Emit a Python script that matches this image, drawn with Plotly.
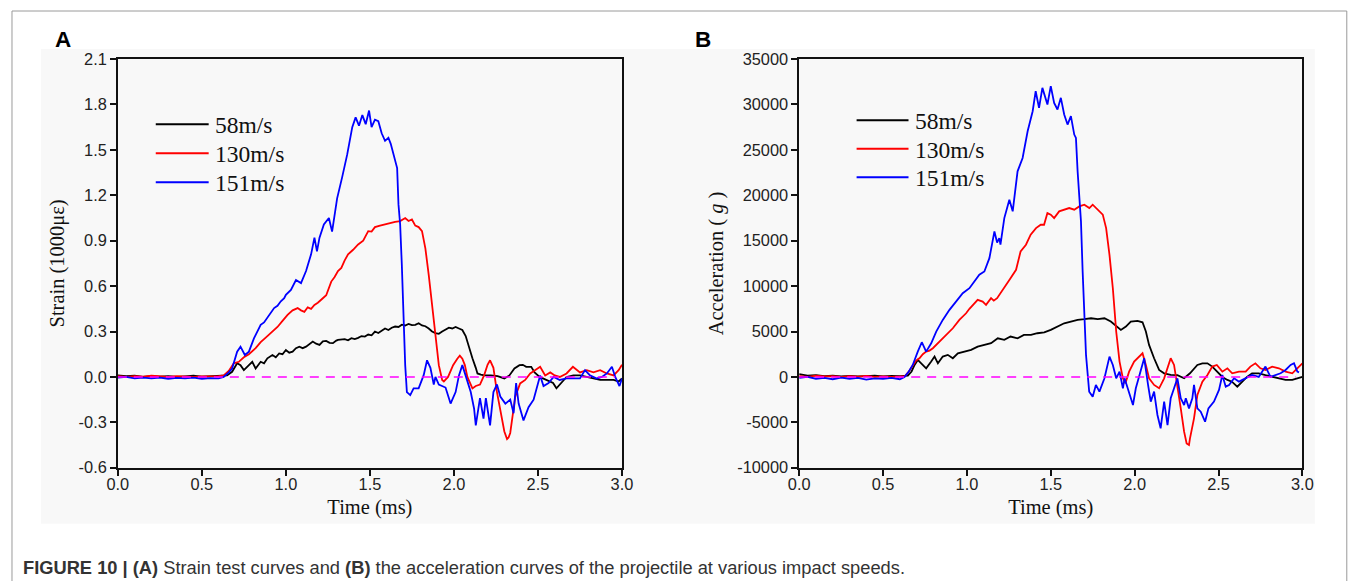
import plotly.graph_objects as go

# The photographed picture maps page pixels to picture pixels as
#   picture_x = 10 + 0.9855 * page_x,  picture_y = 8 + 0.968 * page_y
# so every position below is given in picture pixels and converted.
SX, OX = 0.9855, 10.0
SY, OY = 0.968, 8.0
FW, FH = 1364, 592
FS = 1 / 0.977  # font compensation


def fx(px):
    return ((px - OX) / SX) / FW


def fy(py):
    return 1 - ((py - OY) / SY) / FH


# ---------------- Panel A : strain (1000 micro-strain) ----------------
t_a_58 = [0.00, 0.05, 0.10, 0.15, 0.20, 0.25, 0.30, 0.35, 0.40, 0.45, 0.50, 0.55, 0.60, 0.63, 0.65, 0.68,
          0.71, 0.73, 0.75, 0.78, 0.80, 0.82, 0.85, 0.87, 0.89, 0.92, 0.94, 0.96, 0.98, 1.00, 1.02, 1.04,
          1.06, 1.08, 1.10, 1.12, 1.14, 1.16, 1.18, 1.20, 1.22, 1.24, 1.26, 1.28, 1.30, 1.31, 1.35, 1.37,
          1.39, 1.41, 1.43, 1.45, 1.47, 1.49, 1.51, 1.53, 1.55, 1.57, 1.59, 1.61, 1.63, 1.65, 1.67, 1.69,
          1.71, 1.73, 1.75, 1.77, 1.79, 1.81, 1.83, 1.85, 1.87, 1.89, 1.91, 1.93, 1.95, 1.97, 1.99, 2.01,
          2.03, 2.05, 2.07, 2.09, 2.11, 2.13, 2.14, 2.16, 2.18, 2.22, 2.26, 2.30, 2.33, 2.36, 2.39, 2.41,
          2.43, 2.46, 2.48, 2.51, 2.55, 2.59, 2.61, 2.64, 2.67, 2.71, 2.75, 2.79, 2.83, 2.87, 2.91, 2.95,
          2.98, 3.00]
s_a_58 = [0.010, 0.005, 0.008, 0.000, 0.005, 0.002, 0.006, 0.000, 0.004, 0.008, 0.002, 0.005, 0.003, 0.005, 0.010, 0.034,
          0.090, 0.078, 0.045, 0.078, 0.100, 0.056, 0.100, 0.090, 0.123, 0.145, 0.130, 0.155, 0.150, 0.178, 0.160, 0.167,
          0.190, 0.200, 0.190, 0.200, 0.215, 0.234, 0.220, 0.212, 0.235, 0.238, 0.225, 0.223, 0.240, 0.245, 0.250, 0.242,
          0.256, 0.250, 0.258, 0.270, 0.267, 0.280, 0.275, 0.300, 0.290, 0.305, 0.320, 0.310, 0.325, 0.333, 0.330, 0.345,
          0.340, 0.350, 0.342, 0.344, 0.355, 0.340, 0.335, 0.320, 0.300, 0.290, 0.285, 0.300, 0.310, 0.325, 0.320, 0.330,
          0.320, 0.310, 0.270, 0.190, 0.123, 0.060, 0.023, 0.015, 0.010, 0.010, 0.005, -0.010, 0.010, 0.056, 0.078, 0.080,
          0.067, 0.067, 0.030, 0.000, -0.020, -0.040, -0.075, -0.040, 0.000, 0.010, 0.010, 0.000, -0.010, -0.020, -0.020, -0.020,
          -0.030, -0.010]

t_a_130 = [0.00, 0.05, 0.10, 0.15, 0.20, 0.25, 0.30, 0.35, 0.40, 0.45, 0.50, 0.55, 0.60, 0.63, 0.66, 0.69,
           0.72, 0.75, 0.78, 0.82, 0.85, 0.88, 0.92, 0.95, 0.98, 1.01, 1.04, 1.07, 1.09, 1.11, 1.13, 1.15,
           1.17, 1.19, 1.21, 1.24, 1.27, 1.29, 1.31, 1.33, 1.35, 1.37, 1.40, 1.43, 1.46, 1.49, 1.51, 1.53,
           1.56, 1.59, 1.62, 1.65, 1.68, 1.71, 1.73, 1.75, 1.77, 1.79, 1.81, 1.83, 1.85, 1.87, 1.89, 1.91,
           1.93, 1.94, 1.965, 1.995, 2.02, 2.035, 2.05, 2.065, 2.08, 2.11, 2.13, 2.155, 2.18, 2.20, 2.215, 2.235,
           2.256, 2.27, 2.286, 2.30, 2.316, 2.325, 2.335, 2.345, 2.365, 2.394, 2.424, 2.454, 2.483, 2.513, 2.543, 2.573,
           2.60, 2.63, 2.67, 2.708, 2.75, 2.79, 2.83, 2.87, 2.91, 2.95, 2.98, 3.00]
s_a_130 = [0.005, 0.000, 0.006, 0.002, 0.008, 0.003, 0.000, 0.006, 0.003, 0.000, 0.004, 0.002, 0.005, 0.010, 0.040, 0.090,
           0.100, 0.130, 0.150, 0.190, 0.230, 0.260, 0.300, 0.330, 0.370, 0.410, 0.440, 0.455, 0.440, 0.430, 0.460, 0.450,
           0.476, 0.490, 0.510, 0.540, 0.630, 0.660, 0.700, 0.720, 0.770, 0.810, 0.840, 0.875, 0.900, 0.963, 0.960, 0.990,
           1.000, 1.010, 1.020, 1.025, 1.030, 1.050, 1.030, 1.040, 1.000, 0.990, 0.963, 0.850, 0.675, 0.476, 0.255, 0.078,
           -0.020, -0.030, 0.000, 0.078, 0.120, 0.140, 0.120, 0.078, 0.000, -0.076, -0.060, -0.050, 0.012, 0.080, 0.110, 0.060,
           -0.100, -0.190, -0.275, -0.360, -0.410, -0.400, -0.370, -0.287, -0.130, -0.043, -0.020, 0.023, 0.045, 0.067, 0.010, 0.030,
           0.010, 0.000, 0.023, 0.067, 0.030, 0.045, 0.030, 0.045, 0.023, 0.010, 0.045, 0.080]

t_a_151 = [0.00, 0.05, 0.10, 0.15, 0.20, 0.25, 0.30, 0.35, 0.40, 0.45, 0.50, 0.55, 0.60, 0.63, 0.66, 0.68,
           0.71, 0.73, 0.756, 0.78, 0.81, 0.83, 0.85, 0.87, 0.89, 0.91, 0.93, 0.95, 0.97, 0.99, 1.00, 1.03,
           1.06, 1.09, 1.12, 1.15, 1.17, 1.185, 1.20, 1.226, 1.256, 1.275, 1.29, 1.305, 1.335, 1.365, 1.395, 1.415,
           1.435, 1.455, 1.475, 1.495, 1.51, 1.53, 1.55, 1.57, 1.59, 1.61, 1.624, 1.645, 1.662, 1.67, 1.68, 1.69,
           1.70, 1.71, 1.72, 1.74, 1.76, 1.79, 1.82, 1.84, 1.86, 1.88, 1.89, 1.91, 1.95, 1.98, 2.01, 2.03,
           2.05, 2.07, 2.10, 2.12, 2.13, 2.155, 2.176, 2.19, 2.215, 2.235, 2.256, 2.276, 2.306, 2.335, 2.355, 2.37,
           2.385, 2.414, 2.444, 2.474, 2.494, 2.513, 2.533, 2.563, 2.593, 2.63, 2.67, 2.71, 2.75, 2.78, 2.81, 2.85,
           2.88, 2.91, 2.94, 2.96, 2.985, 3.00]
s_a_151 = [-0.005, 0.000, -0.010, -0.005, -0.010, -0.004, -0.012, -0.006, -0.010, -0.004, -0.012, -0.008, -0.010, 0.000, 0.030, 0.056,
           0.167, 0.200, 0.145, 0.167, 0.255, 0.300, 0.344, 0.360, 0.390, 0.420, 0.455, 0.470, 0.500, 0.520, 0.543, 0.575,
           0.640, 0.620, 0.700, 0.810, 0.920, 0.830, 0.920, 1.007, 1.050, 0.960, 1.080, 1.180, 1.320, 1.470, 1.650, 1.715,
           1.660, 1.730, 1.670, 1.760, 1.650, 1.700, 1.690, 1.610, 1.560, 1.580, 1.540, 1.450, 1.380, 1.140, 1.007, 0.740,
           0.410, 0.078, -0.100, -0.120, -0.076, -0.076, 0.012, 0.110, 0.060, -0.050, 0.000, -0.050, -0.070, -0.176, -0.100, 0.010,
           0.078, 0.012, -0.100, -0.210, -0.320, -0.140, -0.275, -0.140, -0.320, -0.100, -0.050, -0.130, -0.176, -0.150, -0.240, -0.040,
           -0.176, -0.287, -0.200, -0.150, -0.060, 0.010, -0.060, -0.040, 0.000, -0.020, -0.010, -0.010, -0.010, 0.045, 0.010, -0.010,
           0.000, 0.023, 0.067, 0.000, -0.060, -0.010]

# ---------------- Panel B : acceleration (g) ----------------
t_b_58 = [0.00, 0.05, 0.10, 0.15, 0.20, 0.25, 0.30, 0.35, 0.40, 0.45, 0.50, 0.55, 0.60, 0.63, 0.648, 0.67,
          0.688, 0.707, 0.727, 0.757, 0.787, 0.807, 0.827, 0.856, 0.886, 0.916, 0.946, 0.985, 1.025, 1.064, 1.104, 1.144,
          1.184, 1.223, 1.26, 1.302, 1.34, 1.382, 1.42, 1.461, 1.50, 1.54, 1.58, 1.62, 1.66, 1.70, 1.74, 1.78,
          1.82, 1.858, 1.89, 1.918, 1.948, 1.977, 2.017, 2.047, 2.067, 2.086, 2.116, 2.146, 2.176, 2.215, 2.255, 2.295,
          2.33, 2.374, 2.404, 2.434, 2.463, 2.49, 2.523, 2.553, 2.58, 2.612, 2.64, 2.67, 2.70, 2.74, 2.78, 2.82,
          2.86, 2.90, 2.94, 2.98, 3.00]
a_b_58 = [300, 150, 200, 100, 150, 50, 120, 60, 100, 150, 50, 120, 80, 100, 150, 600,
          1320, 1870, 1500, 950, 1690, 2240, 1500, 2240, 2430, 2060, 2600, 2790, 2980, 3340, 3530, 3710,
          4260, 4080, 4450, 4260, 4630, 4630, 4810, 4900, 5180, 5550, 5910, 6100, 6280, 6360, 6460, 6360,
          6460, 6100, 5550, 5180, 5550, 6100, 6180, 6020, 5000, 3530, 2060, 770, 400, 220, 200, -150,
          400, 1320, 1500, 1500, 1140, 580, 0, -330, -520, -1070, -520, 0, 400, 400, 200, 0,
          -150, -330, -330, -150, 0]

t_b_130 = [0.00, 0.05, 0.10, 0.15, 0.20, 0.25, 0.30, 0.35, 0.40, 0.45, 0.50, 0.55, 0.60, 0.63, 0.65, 0.677,
           0.697, 0.717, 0.737, 0.757, 0.777, 0.797, 0.836, 0.876, 0.916, 0.955, 0.995, 1.015, 1.035, 1.064, 1.094, 1.114,
           1.144, 1.16, 1.18, 1.20, 1.223, 1.26, 1.293, 1.32, 1.352, 1.38, 1.412, 1.44, 1.46, 1.48, 1.50, 1.52,
           1.55, 1.58, 1.61, 1.64, 1.67, 1.70, 1.73, 1.75, 1.78, 1.81, 1.83, 1.85, 1.87, 1.89, 1.91, 1.93,
           1.945, 1.967, 1.997, 2.027, 2.047, 2.067, 2.086, 2.116, 2.146, 2.176, 2.20, 2.215, 2.235, 2.255, 2.275, 2.295,
           2.31, 2.324, 2.33, 2.354, 2.374, 2.404, 2.434, 2.463, 2.49, 2.523, 2.553, 2.582, 2.622, 2.662, 2.69, 2.72,
           2.75, 2.78, 2.82, 2.86, 2.90, 2.94, 2.97, 3.00]
a_b_130 = [100, 0, 150, 50, 100, 0, 80, 20, 120, 0, 60, 0, 50, 100, 500, 1320,
           1800, 2060, 2500, 2790, 2900, 3160, 3890, 4630, 5360, 6280, 7010, 7500, 7940, 8490, 8300, 7940,
           8670, 8400, 8670, 9200, 9770, 10870, 11800, 13820, 14560, 15660, 16390, 16760, 16760, 18040, 17870, 17490,
           18230, 18420, 18600, 18420, 18780, 18970, 18600, 18970, 18420, 17870, 16390, 13450, 9770, 5000, 1690, -150,
           -700, 580, 1690, 2240, 2600, 1320, -150, -880, -1250, -150, 1320, 2060, 1320, -880, -3460, -6030,
           -7320, -7500, -6770, -4560, -1990, -520, 220, 1140, 1320, 580, 950, 400, 580, 580, 1140, 1500,
           950, 770, 1140, 950, 580, 400, 950, 1500]

t_b_151 = [0.00, 0.05, 0.10, 0.15, 0.20, 0.25, 0.30, 0.35, 0.40, 0.45, 0.50, 0.55, 0.60, 0.628, 0.65, 0.677,
           0.707, 0.731, 0.757, 0.787, 0.817, 0.856, 0.896, 0.936, 0.975, 1.015, 1.045, 1.074, 1.104, 1.134, 1.164, 1.18,
           1.193, 1.20, 1.223, 1.253, 1.273, 1.302, 1.332, 1.362, 1.392, 1.41, 1.43, 1.45, 1.48, 1.50, 1.52, 1.54,
           1.56, 1.58, 1.60, 1.62, 1.64, 1.65, 1.66, 1.67, 1.68, 1.69, 1.70, 1.71, 1.729, 1.75, 1.769, 1.79,
           1.82, 1.85, 1.87, 1.89, 1.91, 1.93, 1.94, 1.967, 1.99, 2.007, 2.037, 2.057, 2.08, 2.096, 2.116, 2.136,
           2.155, 2.176, 2.196, 2.215, 2.235, 2.255, 2.275, 2.295, 2.305, 2.324, 2.344, 2.354, 2.374, 2.394, 2.42, 2.44,
           2.473, 2.503, 2.523, 2.543, 2.563, 2.593, 2.622, 2.662, 2.70, 2.74, 2.78, 2.81, 2.84, 2.87, 2.90, 2.93,
           2.95, 2.97, 2.98]
a_b_151 = [-100, 0, -200, -100, -250, -80, -200, -100, -300, -150, -200, -100, -250, 0, 500, 1320,
           2790, 3820, 2790, 3710, 5000, 6280, 7390, 8300, 9220, 9770, 10510, 11250, 11610, 13080, 16020, 14800,
           15290, 14560, 17490, 19520, 18240, 22640, 24110, 27050, 29260, 31460, 29630, 31830, 30000, 32020, 30180, 29450,
           30730, 28900, 27790, 28720, 26690, 26320, 22640, 19700, 17130, 11610, 6100, 2430, -1620, -2170, -880, -1620,
           -150, 2240, 1320, -150, 580, -1250, -150, -1620, -3090, -1250, 580, 2060, -880, -2720, -1620, -4190,
           -5660, -2720, -5300, -2350, -1250, -150, -2350, -3090, -2350, -3460, -2350, -880, -3460, -3830, -4930, -3460,
           -2720, -1430, 220, -1070, -880, -150, -520, -150, 220, 0, 1140, 0, 220, 400, 770, 1320,
           1500, 580, 500]

# zero reference (dashed magenta)
zero_t = [0.0, 2.96]
zero_a = [0.0, 0.0]
zero_b = [0.0, 0.0]

labels = ["58m/s", "130m/s", "151m/s"]
colors = ["#000000", "#ff0000", "#0000ff"]

x_ticks = [0.0, 0.5, 1.0, 1.5, 2.0, 2.5, 3.0]
ya_ticks = [-0.6, -0.3, 0.0, 0.3, 0.6, 0.9, 1.2, 1.5, 1.8, 2.1]
yb_ticks = [-10000, -5000, 0, 5000, 10000, 15000, 20000, 25000, 30000, 35000]

fig = go.Figure()

series_a = [(t_a_58, s_a_58), (t_a_130, s_a_130), (t_a_151, s_a_151)]
series_b = [(t_b_58, a_b_58), (t_b_130, a_b_130), (t_b_151, a_b_151)]

LW = 1.8
for (t, v), name, c in zip(series_a, labels, colors):
    fig.add_trace(go.Scatter(x=t, y=v, mode="lines", name=name, line=dict(color=c, width=LW),
                             xaxis="x", yaxis="y", showlegend=False))
fig.add_trace(go.Scatter(x=zero_t, y=zero_a, mode="lines", showlegend=False,
                         line=dict(color="#ff00ff", width=1.6, dash="9px,7px"), xaxis="x", yaxis="y"))

for (t, v), name, c in zip(series_b, labels, colors):
    fig.add_trace(go.Scatter(x=t, y=v, mode="lines", name=name, line=dict(color=c, width=LW),
                             xaxis="x2", yaxis="y2", showlegend=False))
fig.add_trace(go.Scatter(x=zero_t, y=zero_b, mode="lines", showlegend=False,
                         line=dict(color="#ff00ff", width=1.6, dash="9px,7px"), xaxis="x2", yaxis="y2"))

TICKFONT = dict(family="Liberation Sans, Arial, sans-serif", size=16 * FS, color="#222222")
TITLEFONT = dict(family="Liberation Serif, Times New Roman, serif", size=20 * FS, color="#111111")
LEGFONT = dict(family="Liberation Serif, Times New Roman, serif", size=23 * FS, color="#111111")


def xaxis(domain, anchor):
    return dict(domain=domain, anchor=anchor, range=[0, 3], tickvals=x_ticks,
                ticktext=[f"{v:.1f}" for v in x_ticks], ticklabelstandoff=-5,
                showline=True, mirror=True, linecolor="#111111", linewidth=1.5,
                ticks="outside", ticklen=6, tickwidth=1.5, tickcolor="#111111",
                showgrid=False, zeroline=False, tickfont=TICKFONT,
                title=dict(text="Time (ms)", font=TITLEFONT, standoff=8))


def yaxis(domain, anchor, rng, tv, tt, title, standoff):
    return dict(domain=domain, anchor=anchor, range=rng, tickvals=tv, ticktext=tt,
                showline=True, mirror=True, linecolor="#111111", linewidth=1.5,
                ticks="outside", ticklen=6, tickwidth=1.5, tickcolor="#111111",
                showgrid=False, zeroline=False, tickfont=TICKFONT,
                title=dict(text=title, font=TITLEFONT, standoff=standoff))


ydom = [fy(466), fy(58)]

shapes = [
    dict(type="rect", xref="paper", yref="paper", x0=fx(40), x1=fx(1316), y0=fy(522), y1=fy(48),
         fillcolor="#f8f8f8", line=dict(width=0), layer="below"),
    dict(type="rect", xref="paper", yref="paper", x0=fx(11), x1=fx(1348), y0=fy(640), y1=fy(10),
         fillcolor="rgba(0,0,0,0)", line=dict(color="#9a9a9a", width=1), layer="below"),
]
annotations = [
    dict(text="<b>A</b>", x=fx(62), y=fy(38), xref="paper", yref="paper", showarrow=False,
         xanchor="center", yanchor="middle",
         font=dict(family="Liberation Sans, Arial, sans-serif", size=22 * FS, color="#000000")),
    dict(text="<b>B</b>", x=fx(703), y=fy(38), xref="paper", yref="paper", showarrow=False,
         xanchor="center", yanchor="middle",
         font=dict(family="Liberation Sans, Arial, sans-serif", size=22 * FS, color="#000000")),
    dict(text="<b>FIGURE 10 | (A)</b> Strain test curves and <b>(B)</b> the acceleration curves of the projectile at various impact speeds.",
         x=fx(20), y=fy(566), xref="paper", yref="paper", xanchor="left", yanchor="middle",
         showarrow=False, font=dict(family="Liberation Sans, Arial, sans-serif", size=18.3, color="#333333")),
]

# legend keys (one block per panel)
leg_rows = {"A": (155, 208, [123, 152, 181]), "B": (857, 909, [119, 147.5, 176])}
for key, (lx0, lx1, rows) in leg_rows.items():
    for name, c, ry in zip(labels, colors, rows):
        shapes.append(dict(type="line", xref="paper", yref="paper", x0=fx(lx0), x1=fx(lx1),
                           y0=fy(ry), y1=fy(ry), line=dict(color=c, width=2)))
        annotations.append(dict(text=name, x=fx(lx1 + 4), y=fy(ry + 1), xref="paper", yref="paper",
                                xanchor="left", yanchor="middle", showarrow=False, font=LEGFONT))

fig.update_layout(
    width=FW, height=FH, margin=dict(l=0, r=0, t=0, b=0),
    paper_bgcolor="#ffffff", plot_bgcolor="#f8f8f8",
    xaxis=xaxis([fx(117), fx(622)], "y"),
    yaxis=yaxis(ydom, "x", [-0.6, 2.1], ya_ticks, [f"{v:.1f}" for v in ya_ticks], "Strain (1000με)", 8),
    xaxis2=xaxis([fx(799.5), fx(1303.5)], "y2"),
    yaxis2=yaxis(ydom, "x2", [-10000, 35000], yb_ticks, [str(v) for v in yb_ticks], "Acceleration ( <i>g</i> )", 8),
    shapes=shapes,
    annotations=annotations,
)

fig.write_html("out.html", config={"displayModeBar": False},
               post_script="document.body.style.margin='0';document.body.style.padding='0';"
                           "document.documentElement.style.overflow='hidden';")
